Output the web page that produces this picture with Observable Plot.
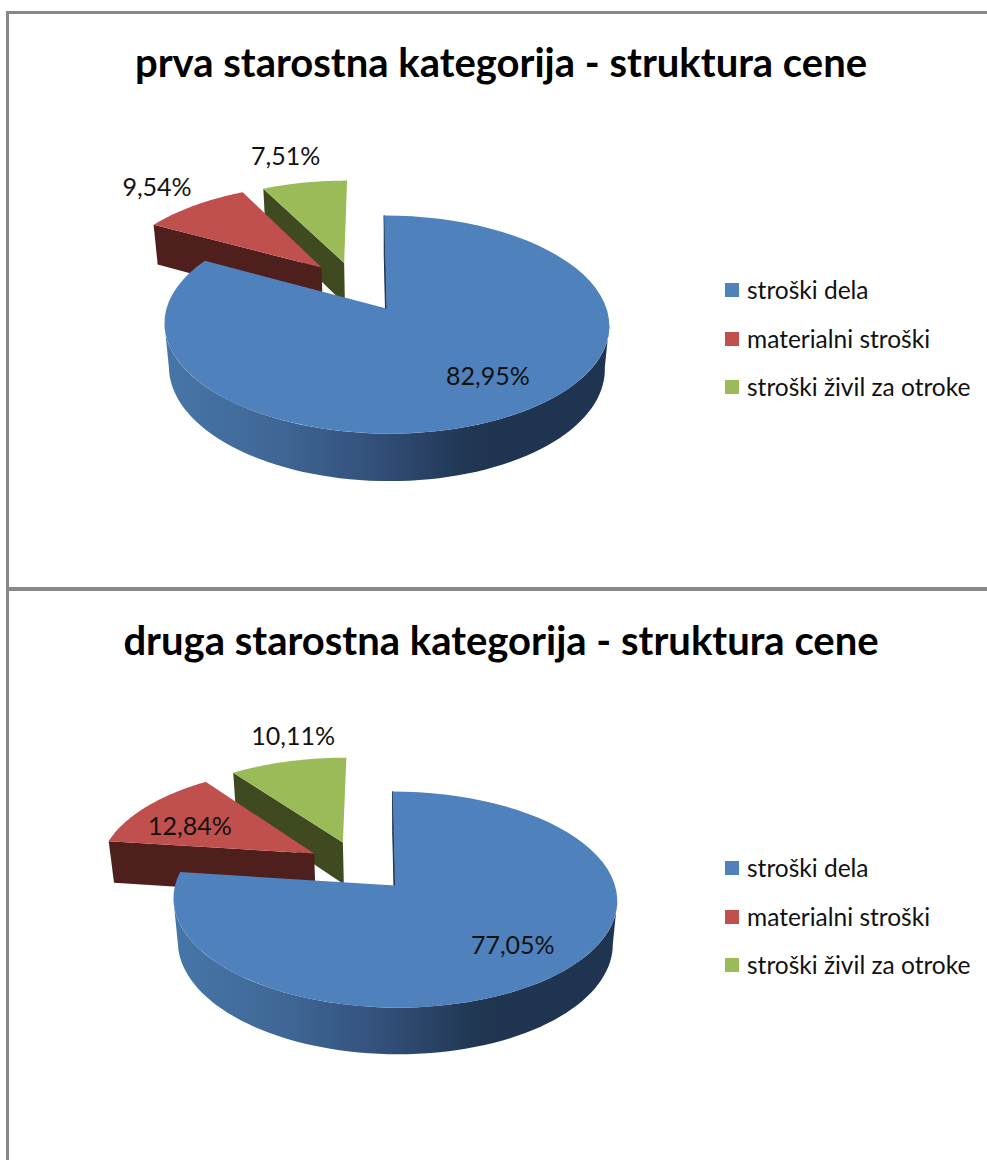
<!DOCTYPE html>
<html>
<head>
<meta charset="utf-8">
<script src="https://cdn.jsdelivr.net/npm/d3@7"></script>
<script src="https://cdn.jsdelivr.net/npm/@observablehq/plot@0.6"></script>
<style>
  html, body { margin: 0; padding: 0; background: #fff; width: 987px; height: 1160px; overflow: hidden; }
  body { font-family: Lato, "Open Sans", sans-serif; color: #111; position: relative; }
  .panel { position: absolute; left: 0; width: 987px; overflow: hidden; }
  .panel svg { display: block; position: absolute; left: 0; top: 0; background: transparent; }
  .frame { position: absolute; left: 6px; width: 981px; box-sizing: border-box; bottom: 0; border-left: 3px solid #888; }
  h2 { position: absolute; left: 15px; width: 972px; top: 39px; margin: 0; text-align: center; font: 700 40px/46px Lato, sans-serif; color: #000; }
  .key { position: absolute; left: 725px; display: flex; align-items: center; height: 24px; font: 400 24.5px/24px Lato, sans-serif; color: #111; white-space: nowrap; }
  .key i { display: block; width: 14px; height: 14px; margin-right: 8px; }
</style>
</head>
<body>
<script>
// ---- data ----
const categories = ["stroški dela", "materialni stroški", "stroški živil za otroke"];
const titles = ["prva starostna kategorija - struktura cene", "druga starostna kategorija - struktura cene"];
const shares1 = [82.95, 9.54, 7.51];
const shares2 = [77.05, 12.84, 10.11];
const shareLabels1 = ["82,95%", "9,54%", "7,51%"];
const shareLabels2 = ["77,05%", "12,84%", "10,11%"];

// ---- styles ----
const topColors = ["#4f81bd", "#c0504d", "#9bbb59"];
const faceColors = ["#1f3550", "#4f1f1d", "#3f4a20"];

// ---- view geometry of each 3-D pie (perspective, slice explosion, label placement) ----
const view1 = {
  top: 0, height: 578, frameTop: 11, frameLine: 3,
  cx: 386, cy: 308, a: 220, b: 106.7, k: 0.147,
  explode: [[0, 0], [-0.308, 0.407], [-0.2, 0.455]],
  labelPolar: [[0.718, -4.5], [1.33, 0], [1.38, -1.5]]
};
const view2 = {
  top: 578, height: 582, frameTop: 587, frameLine: 4,
  cx: 394.5, cy: 307, a: 220, b: 106.2, k: 0.13,
  explode: [[0, 0], [-0.379, 0.313], [-0.245, 0.427]],
  labelPolar: [[0.724, -1.5], [0.681, -5.7], [1.314, 5]]
};
const depth = 44, shrink = 0.02, lean = -0.012;
const wallFrom = 98, wallTo = 262;
const rad = Math.PI / 180;

function drawPanel(shares, shareLabels, title, view, gradientId) {
  const total = d3.sum(shares);
  // project a ground-plane point (u, v) at height z (0 top, 1 bottom) to plot units
  const project = (u, v, z = 0) => {
    const s = 1 / (1 + view.k * v + shrink * z);
    return { px: (u + lean * v) * s, py: v * s - (depth / view.b) * z * s };
  };
  let acc = 0;
  const slices = shares.map((d, i) => {
    const a0 = (acc / total) * 360;
    acc += d;
    const a1 = (acc / total) * 360;
    return { i, a0, a1, mid: (a0 + a1) / 2, off: view.explode[i] };
  });
  const rim = (sl, deg, z = 0) =>
    project(sl.off[0] + Math.sin(deg * rad), sl.off[1] + Math.cos(deg * rad), z);
  const hub = (sl, z = 0) => project(sl.off[0], sl.off[1], z);
  const sweep = (a, b, f) => d3.range(0, 73).map(j => f(a + (b - a) * j / 72));

  const sectorTop = sl => [hub(sl), ...sweep(sl.a0, sl.a1, a => rim(sl, a))];
  const radialFace = (sl, deg) => [hub(sl), rim(sl, deg), rim(sl, deg, 1), hub(sl, 1)];

  const [blue, red, green] = slices;
  const wallEnd = Math.min(blue.a1, wallTo);
  const wall = [
    ...sweep(wallFrom, wallEnd, a => rim(blue, a)),
    ...sweep(wallEnd, wallFrom, a => rim(blue, a, 1))
  ];

  const poly = (pts, fill, extra = {}) =>
    Plot.line(pts, { x: "px", y: "py", fill, stroke: "none", curve: "linear-closed", ...extra });

  const labels = slices.map((sl, i) => {
    const [r, turn] = view.labelPolar[i];
    const p = project(sl.off[0] + r * Math.sin((sl.mid + turn) * rad), sl.off[1] + r * Math.cos((sl.mid + turn) * rad));
    return { ...p, text: shareLabels[i] };
  });

  const chart = Plot.plot({
    width: 987, height: view.height,
    margin: 0,
    x: { axis: null, type: "linear", domain: [-view.cx / view.a, (987 - view.cx) / view.a], range: [0, 987] },
    y: { axis: null, type: "linear", domain: [view.cy / view.b, (view.cy - view.height) / view.b], range: [0, view.height] },
    marks: [
      () => {
        const defs = d3.create("svg:defs");
        const g = defs.append("linearGradient").attr("id", gradientId);
        [[0, "#4676a8"], [0.25, "#3f6796"], [0.47, "#33507a"], [0.7, "#1f3550"], [1, "#1e3450"]]
          .forEach(([o, c]) => g.append("stop").attr("offset", o).attr("stop-color", c));
        return defs.node();
      },
      poly(radialFace(green, green.a0), faceColors[2]),
      poly(sectorTop(green), topColors[2]),
      poly(radialFace(red, red.a0), faceColors[1]),
      poly(sectorTop(red), topColors[1]),
      poly(radialFace(blue, blue.a0), faceColors[0], { stroke: faceColors[0], strokeWidth: 1 }),
      poly(wall, `url(#${gradientId})`),
      poly(sectorTop(blue), topColors[0]),
      Plot.text(labels, {
        x: "px", y: "py", text: "text",
        fontSize: 25, fontFamily: "Lato, sans-serif", fill: "#111", textAnchor: "middle", lineAnchor: "middle"
      })
    ]
  });

  const frame = document.createElement("div");
  frame.className = "frame";
  frame.style.top = view.frameTop + "px";
  frame.style.borderTop = view.frameLine + "px solid #888";
  document.body.appendChild(frame);

  const panel = document.createElement("div");
  panel.className = "panel";
  panel.style.top = view.top + "px";
  panel.style.height = view.height + "px";
  panel.appendChild(chart);
  const h = document.createElement("h2");
  h.textContent = title;
  panel.appendChild(h);
  categories.forEach((c, i) => {
    const k = document.createElement("div");
    k.className = "key";
    k.style.top = (278 + i * 48.5) + "px";
    const sw = document.createElement("i");
    sw.style.background = topColors[i];
    k.appendChild(sw);
    k.appendChild(document.createTextNode(c));
    panel.appendChild(k);
  });
  document.body.appendChild(panel);
}

drawPanel(shares1, shareLabels1, titles[0], view1, "wall1");
drawPanel(shares2, shareLabels2, titles[1], view2, "wall2");
</script>
</body>
</html>
